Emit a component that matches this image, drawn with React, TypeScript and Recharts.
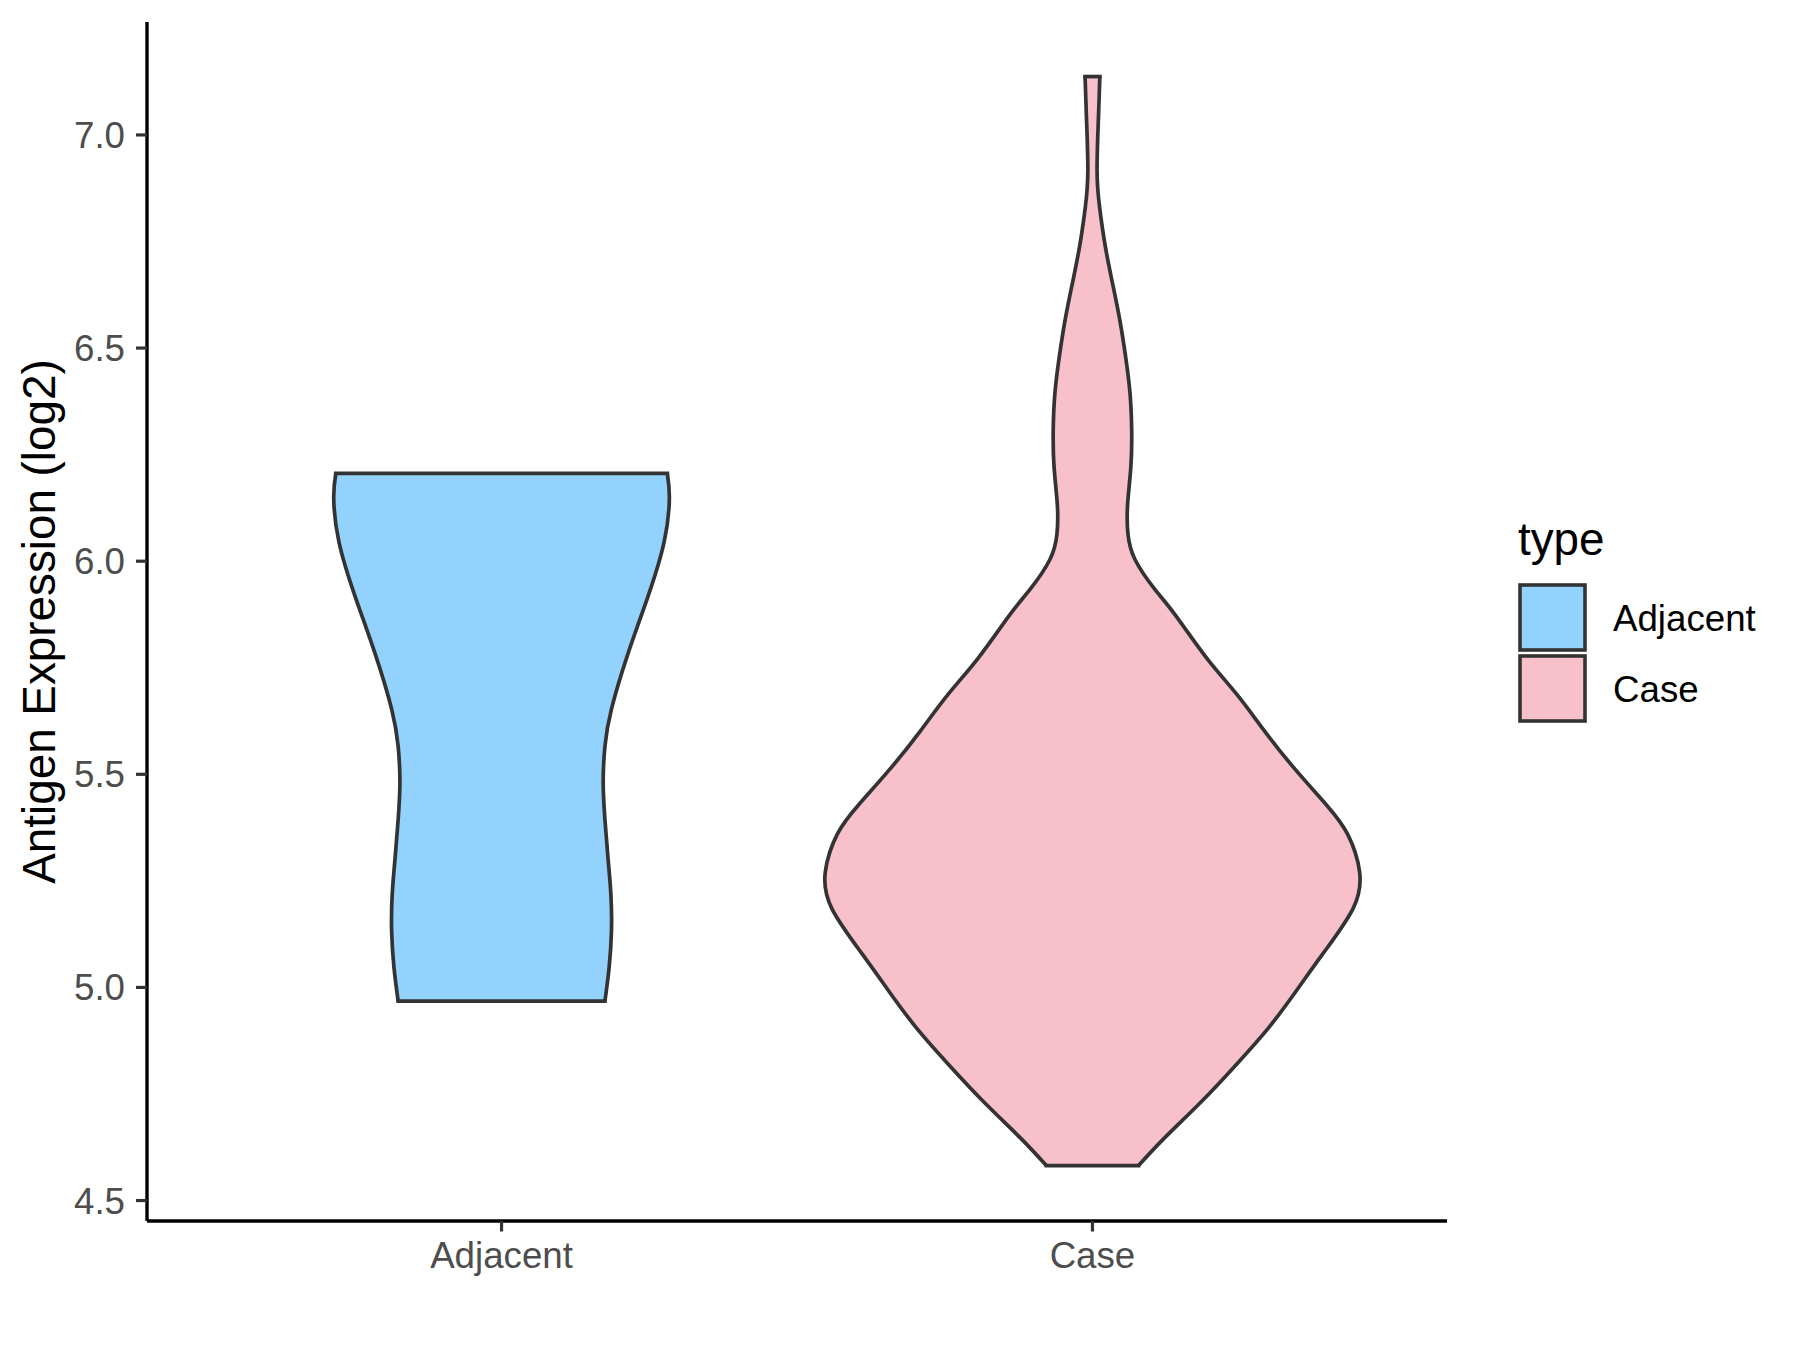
import React from 'react';
import { ComposedChart, Area, XAxis, YAxis, ReferenceLine, Label } from 'recharts';

const categories = ['Adjacent', 'Case'];
const yTicks = [4.5, 5.0, 5.5, 6.0, 6.5, 7.0];

// violin outlines: expression level -> half width (x units)
const adjacentLevels = [4.968, 5.046, 5.132, 5.219, 5.306, 5.393, 5.48, 5.566, 5.653, 5.783, 5.914, 6.044, 6.148, 6.206];
const adjacentHalfWidth = [0.175, 0.182, 0.186, 0.185, 0.18, 0.175, 0.172, 0.175, 0.186, 0.214, 0.247, 0.275, 0.284, 0.2805];

const caseLevels = [
    4.582, 4.647, 4.733, 4.82, 4.907, 4.994, 5.081, 5.185, 5.272, 5.359, 5.428, 5.515, 5.602, 5.688, 5.775,
    5.874, 5.935, 6.004, 6.065, 6.134, 6.221, 6.308, 6.395, 6.481, 6.568, 6.655, 6.742, 6.829, 6.916,
    7.046, 7.137,
];
const caseHalfWidth = [
    0.078, 0.122, 0.185, 0.244, 0.299, 0.346, 0.391, 0.441, 0.452, 0.432, 0.396, 0.341, 0.291, 0.244, 0.192,
    0.14, 0.105, 0.072, 0.06, 0.0595, 0.065, 0.0664, 0.0635, 0.056, 0.046, 0.0335, 0.0213, 0.0122, 0.0078,
    0.0103, 0.0125,
];

const fills: Record<string, string> = { Adjacent: '#92D2FD', Case: '#F7C0CB' };
const OUTLINE = '#333333';
const FONT = '"Liberation Sans", Arial, Helvetica, sans-serif';

const violin = (pos: number, levels: number[], half: number[]) =>
    levels.map((v, i) => ({ v, range: [pos - half[i], pos + half[i]] }));

const violins = [
    { name: categories[0], data: violin(1, adjacentLevels, adjacentHalfWidth) },
    { name: categories[1], data: violin(2, caseLevels, caseHalfWidth) },
];

// eslint-disable-next-line @typescript-eslint/no-explicit-any
const YTitle = ({ viewBox }: any) => {
    const cx = viewBox.x + 55;
    const cy = viewBox.y + viewBox.height / 2;
    return (
        <text
            x={cx}
            y={cy}
            transform={`rotate(-90 ${cx} ${cy})`}
            textAnchor="middle"
            fontSize={45.8}
            fontFamily={FONT}
            fill="#000"
        >
            Antigen Expression (log2)
        </text>
    );
};

function TypeLegend() {
    return (
        <svg width={300} height={240} style={{ position: 'absolute', left: 1500, top: 500 }}>
            <text x={18} y={55} fontSize={45.8} fontFamily={FONT} fill="#000">type</text>
            {categories.map((c, i) => (
                <g key={c}>
                    <rect
                        x={20}
                        y={85 + i * 71}
                        width={65}
                        height={65}
                        fill={fills[c]}
                        stroke={OUTLINE}
                        strokeWidth={3.6}
                    />
                    <text x={113} y={130.5 + i * 71} fontSize={36.7} fontFamily={FONT} fill="#000">
                        {c}
                    </text>
                </g>
            ))}
        </svg>
    );
}

export default function App() {
    const tickStyle = { fill: '#4D4D4D', fontSize: 36.7, fontFamily: FONT };
    return (
        <div style={{ position: 'absolute', left: 0, top: 0, width: 1800, height: 1350, background: '#fff' }}>
            <ComposedChart
                width={1800}
                height={1350}
                layout="vertical"
                margin={{ top: 22, right: 353, bottom: 0, left: 0 }}
            >
                <XAxis
                    type="number"
                    domain={[0.4, 2.6]}
                    ticks={[1, 2]}
                    interval={0}
                    allowDataOverflow
                    tickFormatter={(v: number) => categories[v - 1]}
                    height={129}
                    tick={tickStyle}
                    tickSize={10.5}
                    tickMargin={10}
                    tickLine={{ stroke: OUTLINE, strokeWidth: 3.2 }}
                    axisLine={{ stroke: '#000', strokeWidth: 3.4 }}
                />
                <YAxis
                    type="number"
                    dataKey="v"
                    reversed
                    domain={[4.452, 7.265]}
                    ticks={yTicks}
                    interval={0}
                    allowDataOverflow
                    tickFormatter={(v: number) => v.toFixed(1)}
                    width={147}
                    tick={tickStyle}
                    tickSize={11}
                    tickMargin={11}
                    tickLine={{ stroke: OUTLINE, strokeWidth: 3.2 }}
                    axisLine={{ stroke: '#000', strokeWidth: 3.4 }}
                >
                    <Label content={<YTitle />} />
                </YAxis>
                {violins.map((s) => (
                    <Area
                        key={s.name}
                        name={s.name}
                        data={s.data}
                        dataKey="range"
                        type="natural"
                        fill={fills[s.name]}
                        fillOpacity={1}
                        stroke={OUTLINE}
                        strokeWidth={3.7}
                        dot={false}
                        activeDot={false}
                        isAnimationActive={false}
                    />
                ))}
                {violins.flatMap((s) => {
                    const ends = [s.data[0], s.data[s.data.length - 1]];
                    return ends.map((d, i) => (
                        <ReferenceLine
                            key={`${s.name}-${i}`}
                            segment={[
                                { x: d.range[0], y: d.v },
                                { x: d.range[1], y: d.v },
                            ]}
                            stroke={OUTLINE}
                            strokeWidth={3.7}
                            strokeLinecap="square"
                        />
                    ));
                })}
            </ComposedChart>
            <TypeLegend />
        </div>
    );
}
